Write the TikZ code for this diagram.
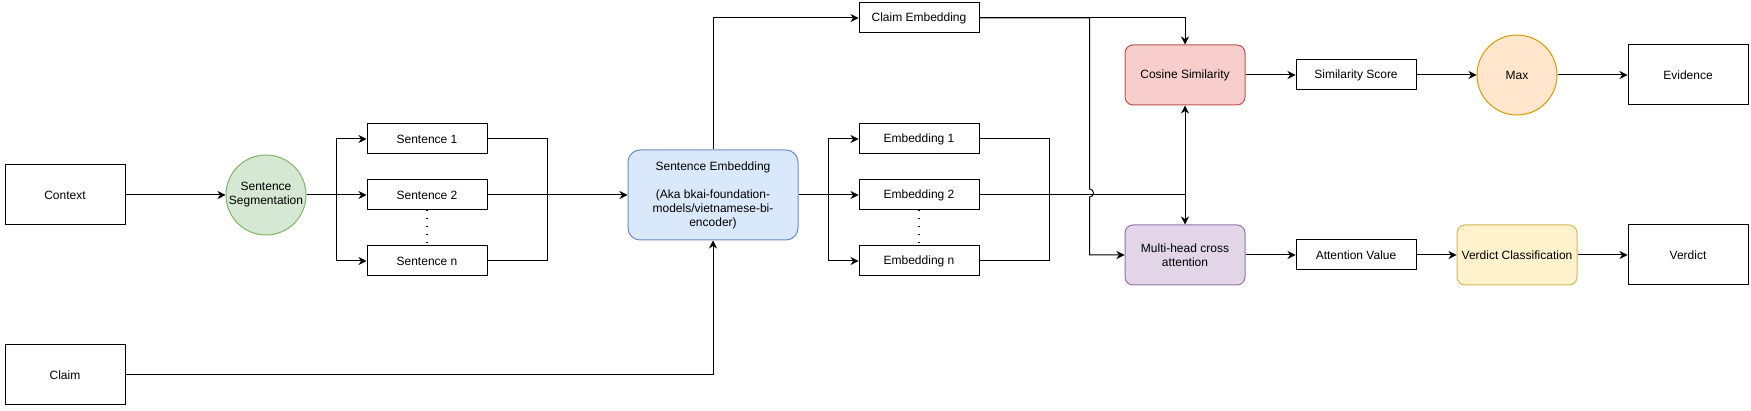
\documentclass[tikz,border=0pt]{standalone}
\usepackage{fontspec}
\setmainfont{Liberation Sans}
\usetikzlibrary{arrows.meta,positioning}

\definecolor{segfill}{HTML}{D5E8D4}
\definecolor{segline}{HTML}{82B366}
\definecolor{encfill}{HTML}{DAE8FC}
\definecolor{encline}{HTML}{6C8EBF}
\definecolor{cosfill}{HTML}{F8CECC}
\definecolor{cosline}{HTML}{B85450}
\definecolor{attfill}{HTML}{E1D5E7}
\definecolor{attline}{HTML}{9673A6}
\definecolor{maxfill}{HTML}{FFE6CC}
\definecolor{maxline}{HTML}{D79B00}
\definecolor{clsfill}{HTML}{FFF2CC}
\definecolor{clsline}{HTML}{D6B656}

\begin{document}
\begin{tikzpicture}[
    x=1pt, y=-1pt,
    font=\fontsize{12}{14}\selectfont,
    >={Stealth[length=8pt,width=8pt,inset=2.5pt]},
    line width=1pt,
    iobox/.style={draw, minimum width=120pt, minimum height=60pt, inner sep=2pt, align=center},
    vecbox/.style={draw, minimum width=120pt, minimum height=30pt, inner sep=2pt, align=center},
    model/.style={draw, rounded corners=8pt, minimum width=120pt, minimum height=60pt, inner sep=2pt, align=center},
    opcircle/.style={draw, circle, minimum size=80pt, inner sep=0pt, align=center},
    dots/.style={line width=1.5pt, dash pattern=on 0.1pt off 7.9pt, line cap=round}
]
\useasboundingbox (0,0) rectangle (1751,411);

\node[iobox] (context) at (65,195) {Context};
\node[iobox] (claim) at (65,375) {Claim};

\node[opcircle, draw=segline, fill=segfill, right=100pt of context] (seg) {Sentence\\Segmentation};
\draw[->] (context) -- (seg);

\node[vecbox, right=60pt of seg] (sent2) {Sentence 2};
\node[vecbox, above=25pt of sent2] (sent1) {Sentence 1};
\node[vecbox, below=35pt of sent2] (sentn) {Sentence n};
\draw[->] (seg) -- (sent2);
\draw[->] (seg.east) -- ++(30,0) |- (sent1.west);
\draw[->] (seg.east) -- ++(30,0) |- (sentn.west);
\draw[dots] (sent2.south) -- (sentn.north);

\node[model, draw=encline, fill=encfill, rounded corners=12pt, minimum width=170pt, minimum height=90pt, right=140pt of sent2] (senc)
  {Sentence Embedding\\[14pt](Aka bkai-foundation-\\models/vietnamese-bi-\\encoder)};
\draw (sent1.east) -- ++(60,0) |- (sentn.east);
\draw[->] (sent2) -- (senc);
\draw[->] (claim.east) -| (senc.south);

\node[vecbox, right=60pt of senc] (emb2) {Embedding 2};
\node[vecbox, above=25pt of emb2] (emb1) {Embedding 1};
\node[vecbox, below=35pt of emb2] (embn) {Embedding n};
\node[vecbox, above=90pt of emb1] (clemb) {Claim Embedding};
\draw[->] (senc.north) |- (clemb.west);
\draw[->] (senc) -- (emb2);
\draw[->] (senc.east) -- ++(30,0) |- (emb1.west);
\draw[->] (senc.east) -- ++(30,0) |- (embn.west);
\draw[dots] (emb2.south) -- (embn.north);
\draw (emb1.east) -- ++(70,0) |- (embn.east);

\node[model, draw=cosline, fill=cosfill] (cosine) at (1185,75) {Cosine Similarity};
\node[model, draw=attline, fill=attfill] (mha) at (1185,255) {Multi-head cross\\attention};

% sentence embeddings go to both blocks
\coordinate (joint) at (cosine.center |- emb2.east);
\draw (emb2.east) -- (joint);
\draw[->] (joint) -- (cosine.south);
\draw[->] (joint) -- (mha.north);

% claim embedding feeds both blocks, hopping over the line above
\draw[->] (clemb.east) -| (cosine.north);
\draw[->] (clemb.east) -- ++(110,0) -- ++(0,171) arc[start angle=-90, end angle=90, radius=4] |- (mha.west);

\node[vecbox, right=50pt of cosine] (score) {Similarity Score};
\node[opcircle, draw=maxline, fill=maxfill, right=60pt of score] (max) {Max};
\node[iobox, right=70pt of max] (evid) {Evidence};
\draw[->] (cosine) -- (score);
\draw[->] (score) -- (max);
\draw[->] (max) -- (evid);

\node[vecbox, right=50pt of mha] (attn) {Attention Value};
\node[model, draw=clsline, fill=clsfill, right=40pt of attn] (vcls) {Verdict Classification};
\node[iobox, right=50pt of vcls] (verdict) {Verdict};
\draw[->] (mha) -- (attn);
\draw[->] (attn) -- (vcls);
\draw[->] (vcls) -- (verdict);
\end{tikzpicture}
\end{document}
